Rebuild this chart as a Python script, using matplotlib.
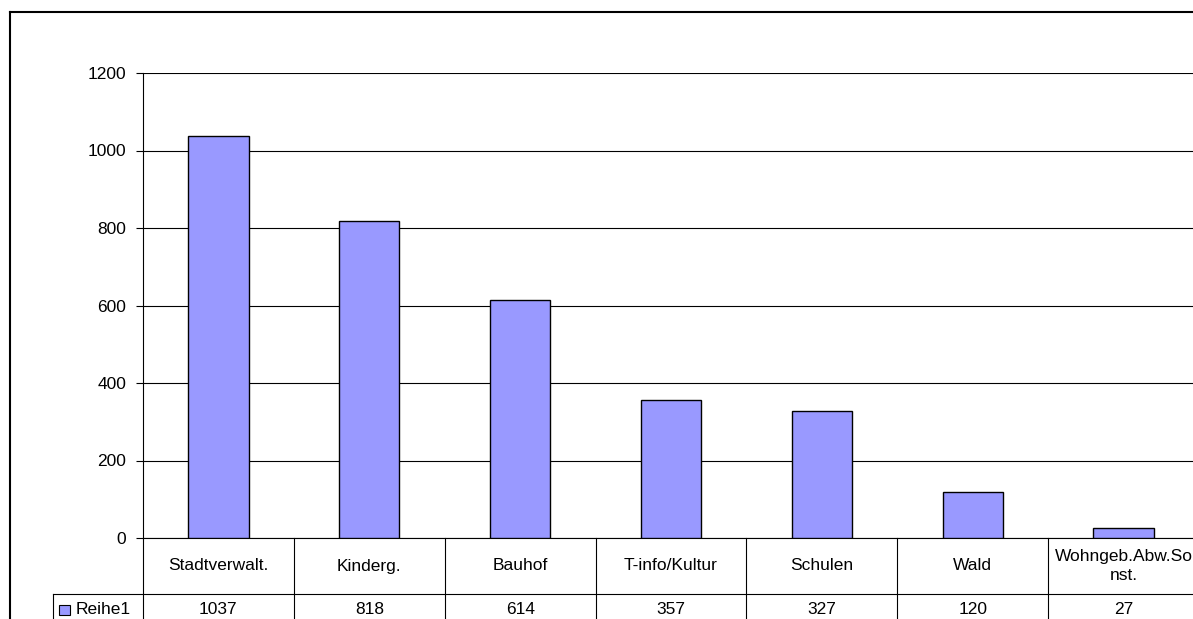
import matplotlib
matplotlib.use("Agg")
import matplotlib.pyplot as plt
from matplotlib.lines import Line2D
from matplotlib.patches import Rectangle
import matplotlib.transforms as mtransforms

categories = ["Stadtverwalt.", "Kinderg.", "Bauhof", "T-info/Kultur",
              "Schulen", "Wald", "Wohngeb.Abw.So\nnst."]
values = [1037, 818, 614, 357, 327, 120, 27]
series_name = "Reihe1"
yticks = [0, 200, 400, 600, 800, 1000, 1200]

BAR_COLOR = "#9999FF"
FS = 12.5
plt.rcParams["font.family"] = ["Liberation Sans", "DejaVu Sans"]

W, H = 1193, 619
fig = plt.figure(figsize=(W / 100, H / 100), dpi=100)

# plot area in pixels (runs a bit past the right edge)
px_left, px_right, px_top, px_zero = 143, 1199, 73, 538
ax = fig.add_axes([px_left / W, 1 - px_zero / H,
                   (px_right - px_left) / W, (px_zero - px_top) / H])

x = list(range(len(categories)))
ax.bar(x, values, width=0.4, color=BAR_COLOR, edgecolor="black",
       linewidth=1, zorder=3)

ax.set_xlim(-0.5, len(categories) - 0.5)
ax.set_ylim(0, 1200)
ax.set_yticks(yticks)
ax.set_xticks([])
ax.yaxis.grid(True, color="black", linewidth=0.8)
ax.set_axisbelow(True)
ax.tick_params(axis="y", direction="out", length=5, width=0.8,
               labelsize=FS, pad=7)
for side in ("top", "right"):
    ax.spines[side].set_visible(False)
ax.spines["left"].set_linewidth(0.8)
ax.spines["bottom"].set_linewidth(0.8)

# data table under the axis
ax_h = px_zero - px_top
cat_w = (px_right - px_left) / len(categories)
row1 = -56 / ax_h
row2 = -90 / ax_h
trans = mtransforms.blended_transform_factory(ax.transData, ax.transAxes)
lw = 0.8

def xdata(px):
    return (px - px_left) / cat_w - 0.5

key_left = xdata(53)
ax.plot([key_left, len(categories) - 0.5], [row1, row1], color="black",
        lw=lw, transform=trans, clip_on=False)
ax.plot([key_left, key_left], [row1, row2], color="black", lw=lw,
        transform=trans, clip_on=False)
for i in range(len(categories) + 1):
    xb = i - 0.5
    ax.plot([xb, xb], [0, row2], color="black", lw=lw,
            transform=trans, clip_on=False)

ymid = -72 / ax_h
for i, (cat, val) in enumerate(zip(categories, values)):
    ax.text(i, row1 / 2, cat, ha="center", va="center", fontsize=FS,
            transform=trans, linespacing=1.35)
    ax.text(i, ymid, str(val), ha="center", va="center", fontsize=FS,
            transform=trans)

# series key in the row header
key = Rectangle((xdata(59), ymid - 10 / ax_h / 2), 11 / cat_w, 10 / ax_h,
                facecolor=BAR_COLOR, edgecolor="black", lw=0.8,
                transform=trans, clip_on=False)
ax.add_patch(key)
ax.text(xdata(76), ymid, series_name, ha="left", va="center",
        fontsize=FS, transform=trans)

# chart area border
fig.add_artist(Line2D([10 / W, 10 / W], [1 - 12 / H, 0], color="black",
                      lw=1.5, transform=fig.transFigure))
fig.add_artist(Line2D([10 / W, 1], [1 - 12 / H, 1 - 12 / H], color="black",
                      lw=1.5, transform=fig.transFigure))

fig.savefig("out.png", dpi=100, facecolor="white")
